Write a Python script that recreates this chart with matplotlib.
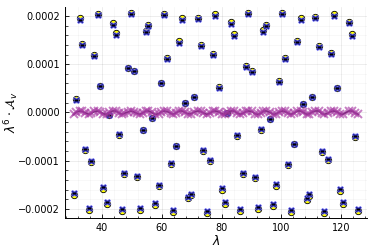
import matplotlib
matplotlib.use("Agg")
from matplotlib import pyplot as plt
from matplotlib.ticker import MultipleLocator
import numpy as np

# lambda positions
lam = [30.7, 31.6, 32.8, 33.6, 34.5, 35.8, 36.5, 37.6, 38.7, 39.5,
       40.6, 41.7, 42.6, 43.7, 44.7, 45.8, 46.7, 47.6, 48.9, 49.7,
       50.8, 51.7, 52.8, 53.7, 54.8, 55.6, 56.7, 57.8, 59.0, 59.7,
       60.8, 61.9, 63.1, 63.9, 64.8, 65.9, 66.9, 67.8, 68.8, 69.8,
       70.9, 72.1, 73.1, 73.9, 75.1, 76.0, 77.0, 77.8, 79.2, 80.1,
       81.2, 81.9, 83.2, 84.2, 85.1, 86.2, 87.1, 88.2, 88.9, 90.1,
       91.2, 92.3, 93.3, 94.0, 94.9, 96.2, 97.3, 98.2, 99.3, 100.3,
       101.2, 102.3, 103.2, 104.3, 105.3, 106.4, 107.3, 108.4, 109.3, 110.3,
       111.3, 112.5, 113.4, 114.3, 115.4, 116.4, 117.5, 118.6, 119.5, 120.4,
       122.5, 123.6, 124.5, 125.6]

# blue crosses (units of 1e-4)
approx = [-1.68, 0.26, 1.92, 1.40, -0.76, -1.99, -1.00, 1.17, 2.02, 0.54,
          -1.55, -1.85, -0.05, 1.82, 1.61, -0.45, -2.00, -1.25, 0.92, 2.04,
          0.85, -1.32, -1.99, -0.36, 1.66, 1.79, -0.12, -1.88, -1.50, 0.61,
          2.02, 1.11, -1.05, -2.02, -0.69, 1.45, 1.92, 0.19, -1.75, -1.69,
          0.31, 1.93, 1.37, -0.78, -2.04, -0.99, 1.20, 2.01, 0.51, -1.57,
          -1.85, -0.02, 1.84, 1.59, -0.47, -2.00, -1.25, 0.94, 2.04, 0.83,
          -1.34, -1.97, -0.35, 1.67, 1.79, -0.14, -1.90, -1.49, 0.64, 2.04,
          1.10, -1.07, -2.02, -0.65, 1.46, 1.92, 0.18, -1.77, -1.70, 0.32,
          1.95, 1.35, -0.80, -2.04, -0.96, 1.21, 2.01, 0.50, -1.59, -1.86,
          1.85, 1.59, -0.49, -2.01]

# yellow circles (units of 1e-4)
exact = [-1.72, 0.27, 1.95, 1.42, -0.77, -2.03, -1.02, 1.19, 2.05, 0.55,
         -1.58, -1.89, -0.05, 1.85, 1.64, -0.46, -2.04, -1.27, 0.93, 2.07,
         0.86, -1.34, -2.03, -0.37, 1.69, 1.82, -0.12, -1.92, -1.53, 0.62,
         2.05, 1.13, -1.07, -2.06, -0.70, 1.48, 1.95, 0.19, -1.78, -1.72,
         0.32, 1.96, 1.39, -0.79, -2.08, -1.01, 1.22, 2.04, 0.52, -1.60,
         -1.89, -0.02, 1.87, 1.62, -0.48, -2.04, -1.27, 0.96, 2.07, 0.85,
         -1.37, -2.01, -0.36, 1.70, 1.82, -0.14, -1.94, -1.52, 0.65, 2.07,
         1.12, -1.09, -2.06, -0.66, 1.49, 1.95, 0.18, -1.81, -1.73, 0.33,
         1.98, 1.38, -0.82, -2.08, -0.98, 1.23, 2.04, 0.51, -1.62, -1.90,
         1.88, 1.62, -0.50, -2.05]

xticks = [40, 60, 80, 100, 120]
yticks = [-0.0002, -0.0001, 0.0, 0.0001, 0.0002]

lam = np.array(lam)
approx = np.array(approx) * 1e-4
exact = np.array(exact) * 1e-4
err = exact - approx

fig = plt.figure(figsize=(3.74, 2.49), dpi=100)
ax = fig.add_axes([0.174, 0.1245, 0.807, 0.848])

ax.plot(lam, exact, "o", ms=4.6, mfc="#ffff00", mec="black", mew=0.6, zorder=3)
ax.plot(lam, approx, "X", ms=5.0, mfc="#1a1a8c", mec="#7a7aff", mew=0.5, zorder=4)
ax.plot(lam, approx, "_", ms=3.5, color="black", mew=1.0, zorder=5)
ax.plot(lam, err, "-", color="#5a1a5a", lw=1.3, zorder=5)
ax.plot(lam, err, "x", ms=5.2, mew=1.4, color="#a83aa4", alpha=0.65, zorder=6)

ax.set_xlim(27.8, 128.5)
ax.set_ylim(-0.000219, 0.000219)
ax.set_xticks(xticks)
ax.set_yticks(yticks)
ax.set_yticklabels(["\u22120.0002", "\u22120.0001", "0.0000", "0.0001", "0.0002"])
ax.xaxis.set_minor_locator(MultipleLocator(4))
ax.yaxis.set_minor_locator(MultipleLocator(0.00002))

ax.grid(True, which="major", color="black", alpha=0.1, lw=0.5)
ax.grid(True, which="minor", color="black", alpha=0.04, lw=0.5)
ax.tick_params(which="both", direction="in", labelsize=7, colors="black")
ax.tick_params(which="major", length=3, width=0.6)
ax.tick_params(which="minor", length=1.8, width=0.5)
for s in ["top", "right"]:
    ax.spines[s].set_visible(False)
for s in ["left", "bottom"]:
    ax.spines[s].set_linewidth(0.7)

ax.set_xlabel(r"$\lambda$", fontsize=9, labelpad=1)
ax.set_ylabel(r"$\lambda^6 \cdot \mathcal{A}_v$", fontsize=9)
ax.yaxis.set_label_coords(-0.145, 0.5)

fig.savefig("out.png", dpi=100)
